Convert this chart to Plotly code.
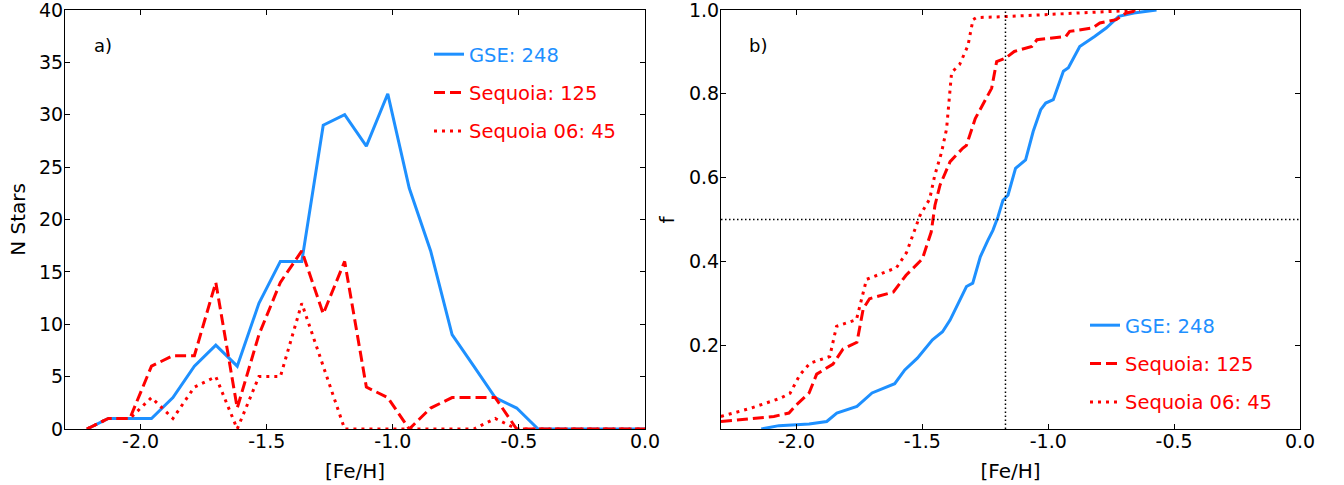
import plotly.graph_objects as go

# ---------------- data ----------------
# Panel a) histogram (bin centres of [Fe/H]) and counts
feh_bins = [-2.213, -2.128, -2.043, -1.957, -1.872, -1.787, -1.702, -1.617, -1.531,
            -1.446, -1.361, -1.276, -1.191, -1.105, -1.020, -0.935, -0.850, -0.765,
            -0.679, -0.594, -0.509, -0.424, -0.339, -0.253, -0.168, -0.083, 0.002]
gse_counts = [0, 1, 1, 1, 3, 6, 8, 6, 12, 16, 16, 29, 30, 27, 32, 23, 17, 9, 6, 3, 2,
              0, 0, 0, 0, 0, 0]
seq_counts = [0, 1, 1, 6, 7, 7, 14, 2, 9, 14, 17, 11, 16, 4, 3, 0, 2, 3, 3, 3, 0,
              0, 0, 0, 0, 0, 0]
seq06_counts = [0, 1, 1, 3, 1, 4, 5, 0, 5, 5, 12, 6, 0, 0, 0, 0, 0, 0, 0, 1, 0,
                0, 0, 0, 0, 0, 0]

# Panel b) cumulative distributions
gse_cdf_feh = [-2.14, -2.07, -1.95, -1.88, -1.84, -1.76, -1.70, -1.61, -1.57, -1.52,
               -1.46, -1.42, -1.39, -1.35, -1.325, -1.30, -1.27, -1.24, -1.22, -1.20,
               -1.18, -1.16, -1.13, -1.09, -1.06, -1.03, -1.01, -0.98, -0.94, -0.92,
               -0.875, -0.816, -0.77, -0.72, -0.66, -0.57]
gse_cdf_f = [0.0, 0.008, 0.012, 0.018, 0.038, 0.054, 0.086, 0.108, 0.141, 0.169,
             0.213, 0.232, 0.26, 0.308, 0.34, 0.348, 0.411, 0.45, 0.474, 0.506,
             0.546, 0.558, 0.622, 0.642, 0.71, 0.762, 0.778, 0.786, 0.854, 0.862,
             0.913, 0.937, 0.957, 0.985, 0.993, 1.0]

seq_cdf_feh = [-2.30, -2.09, -2.03, -2.00, -1.95, -1.92, -1.855, -1.815, -1.76, -1.735,
               -1.71, -1.615, -1.565, -1.525, -1.50, -1.465, -1.45, -1.43, -1.39, -1.34,
               -1.325, -1.29, -1.26, -1.225, -1.205, -1.17, -1.135, -1.065, -1.045,
               -0.93, -0.915, -0.825, -0.795, -0.73, -0.69, -0.637]
seq_cdf_f = [0.018, 0.03, 0.038, 0.058, 0.086, 0.131, 0.155, 0.191, 0.207, 0.287,
             0.311, 0.327, 0.367, 0.391, 0.406, 0.47, 0.534, 0.582, 0.638, 0.67,
             0.677, 0.741, 0.773, 0.813, 0.877, 0.885, 0.901, 0.913, 0.929,
             0.937, 0.949, 0.957, 0.969, 0.977, 0.993, 1.0]

seq06_cdf_feh = [-2.30, -2.185, -2.066, -2.026, -1.987, -1.947, -1.868, -1.841, -1.762,
                 -1.722, -1.603, -1.563, -1.51, -1.471, -1.451, -1.424, -1.404, -1.384,
                 -1.352, -1.319, -1.299, -1.285, -1.18, -0.994, -0.637]
seq06_cdf_f = [0.03, 0.049, 0.073, 0.085, 0.129, 0.157, 0.173, 0.245, 0.261,
               0.357, 0.385, 0.421, 0.509, 0.549, 0.605, 0.66, 0.716, 0.851,
               0.87, 0.915, 0.977, 0.982, 0.984, 0.99, 1.0]

median_feh = -1.17
half_level = 0.5

labels = ["GSE: 248", "Sequoia: 125", "Sequoia 06: 45"]

x_ticks = [-2.0, -1.5, -1.0, -0.5, 0.0]
x_ticktext = ["-2.0", "-1.5", "-1.0", "-0.5", "0.0"]
ya_ticks = [0, 5, 10, 15, 20, 25, 30, 35, 40]
yb_ticks = [0.2, 0.4, 0.6, 0.8, 1.0]
yb_ticktext = ["0.2", "0.4", "0.6", "0.8", "1.0"]

# ---------------- style ----------------
BLUE = "#1E90FF"
RED = "#FF0000"
FONT = "DejaVu Sans"
styles = [dict(color=BLUE, width=3, dash="solid"),
          dict(color=RED, width=3, dash="11px,5px"),
          dict(color=RED, width=3, dash="3px,5px")]
colors = [BLUE, RED, RED]

fig = go.Figure()

hist_series = [gse_counts, seq_counts, seq06_counts]
for i, ys in enumerate(hist_series):
    fig.add_trace(go.Scatter(
        x=feh_bins, y=ys, mode="lines", line=styles[i],
        name=f"<span style='color:{colors[i]}'>{labels[i]}</span>",
        legend="legend", legendgroup=f"a{i}", xaxis="x", yaxis="y"))

cdf_series = [(gse_cdf_feh, gse_cdf_f), (seq_cdf_feh, seq_cdf_f), (seq06_cdf_feh, seq06_cdf_f)]
for i, (xs, ys) in enumerate(cdf_series):
    fig.add_trace(go.Scatter(
        x=xs, y=ys, mode="lines", line=styles[i],
        name=f"<span style='color:{colors[i]}'>{labels[i]}</span>",
        legend="legend2", legendgroup=f"b{i}", xaxis="x2", yaxis="y2"))

# reference lines in panel b
fig.add_trace(go.Scatter(x=[-2.3, 0.0], y=[half_level, half_level], mode="lines",
                         line=dict(color="black", width=1.5, dash="1.5px,2.5px"),
                         showlegend=False, xaxis="x2", yaxis="y2"))
fig.add_trace(go.Scatter(x=[median_feh, median_feh], y=[0, 1], mode="lines",
                         line=dict(color="black", width=1.5, dash="1.5px,2.5px"),
                         showlegend=False, xaxis="x2", yaxis="y2"))

axis_common = dict(showline=True, linecolor="black", linewidth=1, mirror="ticks",
                   ticks="inside", ticklen=5, tickwidth=1, tickcolor="black",
                   showgrid=False, zeroline=False, ticklabeloverflow="allow",
                   automargin=False,
                   tickfont=dict(family=FONT, size=19, color="black"))

W, H = 1344, 485
fig.update_layout(
    width=W, height=H, autosize=False,
    margin=dict(l=0, r=0, t=0, b=0, autoexpand=False),
    paper_bgcolor="white", plot_bgcolor="white",
    font=dict(family=FONT, color="black"),
    xaxis=dict(domain=[65 / W, 645 / W], range=[-2.3, 0.0], anchor="y",
               tickvals=x_ticks, ticktext=x_ticktext, ticklabelstandoff=-5,
               title=dict(text="[Fe/H]", font=dict(size=20), standoff=13),
               **axis_common),
    yaxis=dict(domain=[1 - 429 / H, 1 - 10 / H], range=[0, 40], anchor="x",
               tickvals=ya_ticks, ticklabelstandoff=-3,
               title=dict(text="N Stars", font=dict(size=20), standoff=8),
               **axis_common),
    xaxis2=dict(domain=[721 / W, 1300 / W], range=[-2.3, 0.0], anchor="y2",
                tickvals=x_ticks, ticktext=x_ticktext, ticklabelstandoff=-5,
                title=dict(text="[Fe/H]", font=dict(size=20), standoff=13),
                **axis_common),
    yaxis2=dict(domain=[1 - 429 / H, 1 - 10 / H], range=[0, 1], anchor="x2",
                tickvals=yb_ticks, ticktext=yb_ticktext, ticklabelstandoff=-3,
                **axis_common),
    legend=dict(x=429 / W, y=1 - 35 / H, xanchor="left", yanchor="top",
                bgcolor="rgba(0,0,0,0)", borderwidth=0,
                font=dict(family=FONT, size=19.5),
                traceorder="grouped", tracegroupgap=10, itemwidth=30),
    legend2=dict(x=1085 / W, y=1 - 306 / H, xanchor="left", yanchor="top",
                 bgcolor="rgba(0,0,0,0)", borderwidth=0,
                 font=dict(family=FONT, size=19.5),
                 traceorder="grouped", tracegroupgap=10, itemwidth=30),
    annotations=[
        dict(text="a)", xref="x domain", yref="y domain", x=(92 - 65) / 580,
             y=(429 - 45) / 419, xanchor="left", yanchor="middle", showarrow=False,
             font=dict(family=FONT, size=18, color="black")),
        dict(text="b)", xref="x2 domain", yref="y2 domain", x=(747 - 721) / 579,
             y=(429 - 45) / 419, xanchor="left", yanchor="middle", showarrow=False,
             font=dict(family=FONT, size=18, color="black")),
        dict(text="f", xref="paper", yref="y2 domain", x=666 / W, y=0.5,
             xanchor="center", yanchor="middle", textangle=-90, showarrow=False,
             font=dict(family=FONT, size=20, color="black")),
    ],
)

fig.write_html("out.html")
